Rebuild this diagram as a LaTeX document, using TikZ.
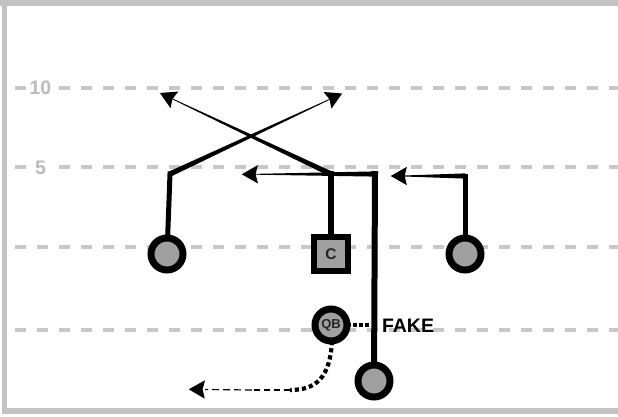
\documentclass[tikz,border=0pt]{standalone}
\usepackage{fontspec}
\setmainfont{Liberation Sans}
\usetikzlibrary{calc}
\definecolor{yard}{HTML}{C8C8C8}
\definecolor{framegray}{HTML}{C2C2C2}
\definecolor{pgray}{HTML}{A0A0A0}
\definecolor{lblgray}{HTML}{BABABA}
\tikzset{
  yardline/.style={yard, line width=4pt, dash pattern=on 11pt off 11pt},
  yardlbl/.style={fill=white, text=lblgray, inner sep=3pt, font=\bfseries\fontsize{19.5}{19.5}\selectfont},
  player/.style={circle, draw=black, line width=7pt, fill=pgray, minimum size=32pt, inner sep=0pt},
  centerbox/.style={rectangle, draw=black, line width=6pt, fill=pgray, minimum size=34pt, inner sep=0pt,
    font=\bfseries\fontsize{15.5}{15.5}\selectfont, text=black!85},
  qbtext/.style={font=\bfseries\fontsize{13}{13}\selectfont, text=black!85},
  route/.style={black, line width=5pt, line cap=rect},
  headfill/.style={black, draw=black, line width=1.2pt, line join=miter},
  fakedots/.style={black, line width=4.5pt, dash pattern=on 3.5pt off 2.5pt},
  dropdots/.style={black, line width=4.2pt, dash pattern=on 4.2pt off 3pt},
  dropdash/.style={black, line width=2pt, dash pattern=on 6pt off 4pt},
  dropdashthin/.style={black, line width=1.2pt, dash pattern=on 7pt off 4pt},
  fakelbl/.style={font=\bfseries\fontsize{19.5}{20}\selectfont, inner sep=0pt}
}
% tapered segment: from, to, half width at start, half width at end
\newcommand\taperseg[4]{%
  \fill[black] ($(#1)!#3!90:(#2)$) -- ($(#2)!#4!-90:(#1)$) -- ($(#2)!#4!90:(#1)$) -- ($(#1)!#3!-90:(#2)$) -- cycle;}
% stealth-like arrow head at #2 coming from #1
\newcommand\arrowhd[2]{%
  \coordinate (ahb) at ($(#2)!14pt!(#1)$);
  \coordinate (ahn) at ($(#2)!12pt!(#1)$);
  \coordinate (ahl) at ($(ahb)!8pt!90:(#2)$);
  \coordinate (ahr) at ($(ahb)!8pt!-90:(#2)$);
  \filldraw[headfill] (#2) -- (ahl) -- (ahn) -- (ahr) -- cycle;}
\begin{document}
\begin{tikzpicture}[x=1pt,y=-1pt]
\useasboundingbox (0,0) rectangle (618,417);
% frame
\fill[framegray] (0,0) rectangle (618,6);
\fill[framegray] (2,0) rectangle (7,414);
\fill[framegray] (2,408) rectangle (618,414);
% yard lines
\draw[yardline] (15,88) -- (618,88);
\draw[yardline] (15,167) -- (618,167);
\draw[yardline] (15,247) -- (618,247);
\draw[yardline] (15,330) -- (618,330);
\node[yardlbl] (y10) at (40.5,88) {10};
\node[yardlbl] (y5) at (40.5,168) {5};
% player positions
\coordinate (plwr) at (167,254);
\coordinate (prwr) at (465,254);
\coordinate (pctr) at (331,254);
\coordinate (pqb) at (331,325);
\coordinate (prb) at (374,381);
% route coordinates
\coordinate (lc) at (170,174);
\coordinate (la) at (341,94);
\coordinate (cc) at (331,174);
\coordinate (ca) at (161,93.5);
\coordinate (rc) at (375,174);
\coordinate (ra) at (243,174.3);
\coordinate (wc) at (465,176);
\coordinate (wa) at (392,176);
\coordinate (fk) at (369,325);
\coordinate (d1) at (290,390);
\coordinate (d2) at (252,390);
\coordinate (d3) at (205,389.5);
\coordinate (da) at (190,389.3);
% left WR route
\draw[route] (plwr) -- (lc);
\taperseg{lc}{$(la)!12pt!(lc)$}{2.7pt}{0.4pt}
\arrowhd{lc}{la}
% center route
\draw[route, line width=5.5pt] (pctr) -- (cc);
\taperseg{cc}{$(ca)!12pt!(cc)$}{2.7pt}{0.4pt}
\arrowhd{cc}{ca}
% running back route
\draw[route, line width=6pt] (prb) -- (rc);
\taperseg{rc}{$(ra)!12pt!(rc)$}{2.6pt}{0.4pt}
\arrowhd{rc}{ra}
% right WR route
\draw[route] (prwr) -- (wc);
\taperseg{wc}{$(wa)!12pt!(wc)$}{2.6pt}{0.5pt}
\arrowhd{wc}{wa}
% QB fake and dropback
\draw[fakedots] (347,325) -- (fk);
\draw[dropdots] (332,341) .. controls (330,378) and (316,390) .. (d1);
\draw[dropdash] (d1) -- (d2);
\draw[dropdashthin] (d2) -- (d3);
\arrowhd{d3}{da}
% players on top
\node[player] (lwr) at (plwr) {};
\node[player] (rwr) at (prwr) {};
\node[centerbox] (ctr) at (pctr) {C};
\node[player, qbtext] (qb) at (pqb) {QB};
\node[player] (rb) at (prb) {};
\node[fakelbl] (fake) at (408,325.5) {FAKE};
\end{tikzpicture}
\end{document}
